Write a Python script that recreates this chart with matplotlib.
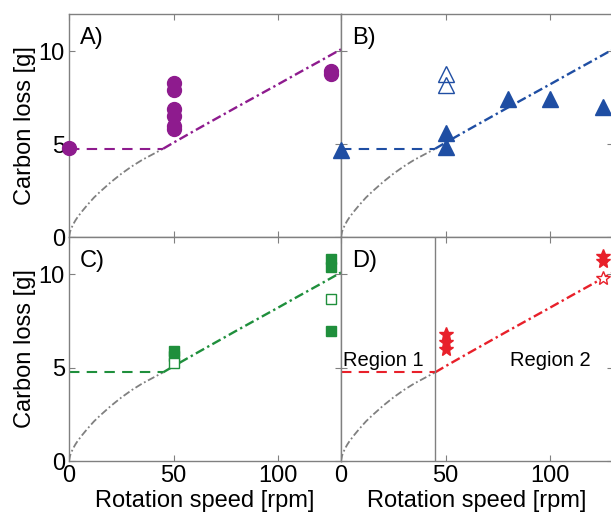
import matplotlib
matplotlib.use("Agg")
import matplotlib.pyplot as plt

plt.rcParams['font.family'] = ['Liberation Sans', 'DejaVu Sans']

# fitted model curve
curve_x = [0, 0.5, 1, 2, 3, 4, 6, 8, 10, 12, 15, 20, 25, 30, 35, 40, 45,
           50, 60, 70, 80, 90, 100, 110, 120, 130]
curve_y = [0, 0.28, 0.44, 0.68, 0.88, 1.05, 1.35, 1.62, 1.88, 2.13, 2.45, 2.95, 3.4, 3.8, 4.15, 4.45, 4.75,
           5.08, 5.72, 6.35, 6.98, 7.6, 8.22, 8.85, 9.47, 10.1]
kink_x = 45
kink_y = 4.75

# Panel A (purple circles)
a_x = [0, 50, 50, 50, 50, 50, 50, 125, 125]
a_y = [4.8, 8.3, 7.9, 6.9, 6.5, 6.0, 5.8, 8.95, 8.75]
# Panel B (blue triangles)
b_x = [0, 50, 50, 80, 100, 125]
b_y = [4.7, 5.6, 4.85, 7.4, 7.45, 6.97]
b_open_x = [50, 50]
b_open_y = [8.75, 8.2]
# Panel C (green squares)
c_x = [50, 50, 125, 125, 125]
c_y = [5.9, 5.6, 10.8, 10.4, 6.97]
c_open_x = [50, 125]
c_open_y = [5.25, 8.7]
# Panel D (red stars)
d_x = [50, 50, 50, 125, 125]
d_y = [6.8, 6.4, 6.0, 11.0, 10.7]
d_open_x = [125]
d_open_y = [9.78]

xticks = [0, 50, 100]
yticks = [0, 5, 10]

W, H = 611, 526
fig = plt.figure(figsize=(W / 100, H / 100), dpi=100)

def px(l, t, r, b):
    return [l / W, 1 - b / H, (r - l) / W, (b - t) / H]

axA = fig.add_axes(px(69, 14, 341, 237))
axB = fig.add_axes(px(341, 14, 613, 237))
axC = fig.add_axes(px(69, 237, 341, 461))
axD = fig.add_axes(px(341, 237, 613, 461))

gray = '#808080'
cols = {'A': '#8e1b8e', 'B': '#1f4ea3', 'C': '#1f8f3c', 'D': '#e8202a'}

cx_lo = [x for x in curve_x if x <= kink_x]
cy_lo = curve_y[:len(cx_lo)]
cx_hi = [x for x in curve_x if x >= kink_x]
cy_hi = curve_y[len(curve_x) - len(cx_hi):]

fs = 17
for name, ax in zip('ABCD', [axA, axB, axC, axD]):
    c = cols[name]
    ax.set_xlim(0, 130)
    ax.set_ylim(0, 12)
    ax.plot(cx_lo, cy_lo, color=gray, ls=(0, (4, 1.5, 1, 1.5)), lw=1.3)
    ax.plot(cx_hi, cy_hi, color=c, ls=(0, (4, 1.5, 1, 1.5)), lw=1.7)
    ax.plot([0, kink_x], [kink_y, kink_y], color=c, ls=(0, (5, 3.5)), lw=1.5)
    for s in ax.spines.values():
        s.set_color(gray)
        s.set_linewidth(1.0)
    ax.set_xticks(xticks)
    ax.set_yticks(yticks)
    ax.tick_params(direction='in', top=True, right=True, length=4, color=gray,
                   labelsize=fs, pad=3)
    ax.text(0.04, 0.94, name + ')', transform=ax.transAxes, fontsize=fs,
            va='top', ha='left')

axA.plot(a_x, a_y, 'o', color=cols['A'], ms=10, mec=cols['A'], clip_on=False, zorder=5)
axB.plot(b_x, b_y, '^', color=cols['B'], ms=11, clip_on=False, zorder=5)
axB.plot(b_open_x, b_open_y, '^', mfc='none', mec=cols['B'], ms=11, mew=1.0, clip_on=False, zorder=5)
axC.plot(c_x, c_y, 's', color=cols['C'], ms=7, clip_on=False, zorder=5)
axC.plot(c_open_x, c_open_y, 's', mfc='white', mec=cols['C'], ms=7, mew=1.0, clip_on=False, zorder=5)
axD.plot(d_x, d_y, '*', color=cols['D'], ms=10, clip_on=False, zorder=5)
axD.plot(d_open_x, d_open_y, '*', mfc='white', mec=cols['D'], ms=10, mew=1.0, clip_on=False, zorder=5)

axD.axvline(kink_x, color=gray, lw=1.0)
axD.text(1, 5.4, 'Region 1', fontsize=14.5, ha='left', va='center')
axD.text(100, 5.4, 'Region 2', fontsize=14.5, ha='center', va='center')

for ax in [axA, axB]:
    ax.tick_params(labelbottom=False)
for ax in [axB, axD]:
    ax.tick_params(labelleft=False)

axA.set_ylabel('Carbon loss [g]', fontsize=fs, labelpad=2)
axC.set_ylabel('Carbon loss [g]', fontsize=fs, labelpad=2)
axC.set_xlabel('Rotation speed [rpm]', fontsize=fs, labelpad=2)
axD.set_xlabel('Rotation speed [rpm]', fontsize=fs, labelpad=2)

fig.savefig('out.png', dpi=100)
